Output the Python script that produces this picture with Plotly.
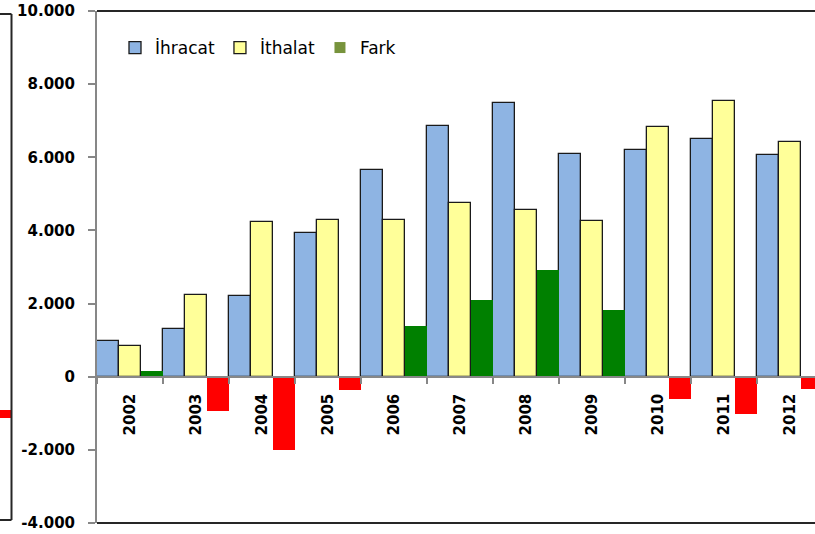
import plotly.graph_objects as go

# ---- data ----
years = ["2002", "2003", "2004", "2005", "2006", "2007", "2008", "2009", "2010", "2011", "2012"]
ihracat = [976, 1304, 2207, 3938, 5660, 6845, 7484, 6098, 6207, 6500, 6070]
ithalat = [828, 2234, 4222, 4293, 4274, 4758, 4567, 4266, 6817, 7528, 6407]
fark = [148, -930, -2015, -355, 1386, 2087, 2917, 1832, -610, -1028, -337]

ytick_vals = [-4000, -2000, 0, 2000, 4000, 6000, 8000, 10000]
ytick_text = ["-4.000", "-2.000", "0", "2.000", "4.000", "6.000", "8.000", "10.000"]

# fragment of the neighbouring chart visible at the left edge
neighbor_cat = ["n"]
neighbor_val = [90]

# ---- styling ----
W, H = 815, 534
X0 = 97 / W
BLUE = "#8EB4E3"
YELLOW = "#FFFF99"
GREEN = "#008000"
RED = "#FF0000"
LEGEND_FARK = "#77933C"
AXIS_GRAY = "#878787"
FRAME = "#262626"
TICKFONT = dict(family="DejaVu Sans", size=15, color="#000000", weight="bold")

fark_colors = [GREEN if v >= 0 else RED for v in fark]

fig = go.Figure()
fig.add_trace(go.Bar(x=years, y=ihracat, name="İhracat",
                     marker=dict(color=BLUE, line=dict(color="#1a1a1a", width=1.3))))
fig.add_trace(go.Bar(x=years, y=ithalat, name="İthalat",
                     marker=dict(color=YELLOW, line=dict(color="#1a1a1a", width=1.3))))
fig.add_trace(go.Bar(x=years, y=fark, name="Fark", showlegend=False,
                     marker=dict(color=fark_colors, line=dict(width=0))))
# legend entry for Fark (series colour)
fig.add_trace(go.Scatter(x=[None], y=[None], name="Fark", mode="markers",
                         marker=dict(symbol="square", size=11, color=LEGEND_FARK)))

# neighbour fragment
fig.add_trace(go.Bar(x=neighbor_cat, y=neighbor_val, xaxis="x2", yaxis="y2",
                     showlegend=False, marker=dict(color=RED, line=dict(width=0))))

fig.update_layout(
    width=W, height=H,
    margin=dict(l=0, r=0, t=11, b=11),
    paper_bgcolor="white", plot_bgcolor="rgba(0,0,0,0)",
    barmode="group", bargap=0, bargroupgap=0,
    font=dict(family="DejaVu Sans", color="#000000"),
    showlegend=True,
    legend=dict(orientation="h", x=115 / W, y=(523 - 48) / 512, xanchor="left", yanchor="middle",
                font=dict(size=17, family="DejaVu Sans", color="#000000"),
                bgcolor="rgba(0,0,0,0)", itemwidth=30, traceorder="normal"),
    xaxis=dict(domain=[X0, 1], type="category", range=[-0.5, 10.38],
               anchor="free", position=4 / 14,
               showline=True, linecolor=AXIS_GRAY, linewidth=2,
               ticks="outside", ticklen=6, tickcolor=AXIS_GRAY, tickwidth=2,
               tickson="boundaries", tickangle=-90, tickfont=TICKFONT,
               ticklabelstandoff=10, showgrid=False, zeroline=False),
    yaxis=dict(domain=[0, 1], range=[-4000, 10000], anchor="x",
               tickvals=ytick_vals, ticktext=ytick_text,
               showline=True, linecolor=AXIS_GRAY, linewidth=2,
               ticks="outside", ticklen=7, tickcolor=AXIS_GRAY, tickwidth=2,
               tickfont=TICKFONT, ticklabelstandoff=10,
               showgrid=False, zeroline=False),
    xaxis2=dict(domain=[0, 11 / W], range=[-0.5, 0.5], type="category", anchor="y2",
                showticklabels=False, showline=False, showgrid=False, ticks=""),
    yaxis2=dict(domain=[0, 1], range=[-1150, 4450], anchor="x2",
                showticklabels=False, showline=False, showgrid=False, ticks="",
                zeroline=True, zerolinecolor=AXIS_GRAY, zerolinewidth=1),
    shapes=[
        dict(type="line", xref="paper", yref="paper", x0=X0, x1=1, y0=1, y1=1,
             line=dict(color=FRAME, width=2)),
        dict(type="line", xref="paper", yref="paper", x0=X0, x1=1, y0=0, y1=0,
             line=dict(color=FRAME, width=2)),
        dict(type="line", xref="paper", yref="paper", x0=11.5 / W, x1=11.5 / W,
             y0=(523 - 520) / 512, y1=(523 - 14) / 512, line=dict(color=FRAME, width=2)),
        dict(type="line", xref="paper", yref="paper", x0=0, x1=11.5 / W,
             y0=(523 - 14) / 512, y1=(523 - 14) / 512, line=dict(color=FRAME, width=2)),
        dict(type="line", xref="paper", yref="paper", x0=0, x1=11.5 / W,
             y0=(523 - 520) / 512, y1=(523 - 520) / 512, line=dict(color=FRAME, width=2)),
    ],
)

fig.write_html("out.html", config={"displayModeBar": False},
               post_script="document.body.style.margin='0';document.body.style.overflow='hidden';")
